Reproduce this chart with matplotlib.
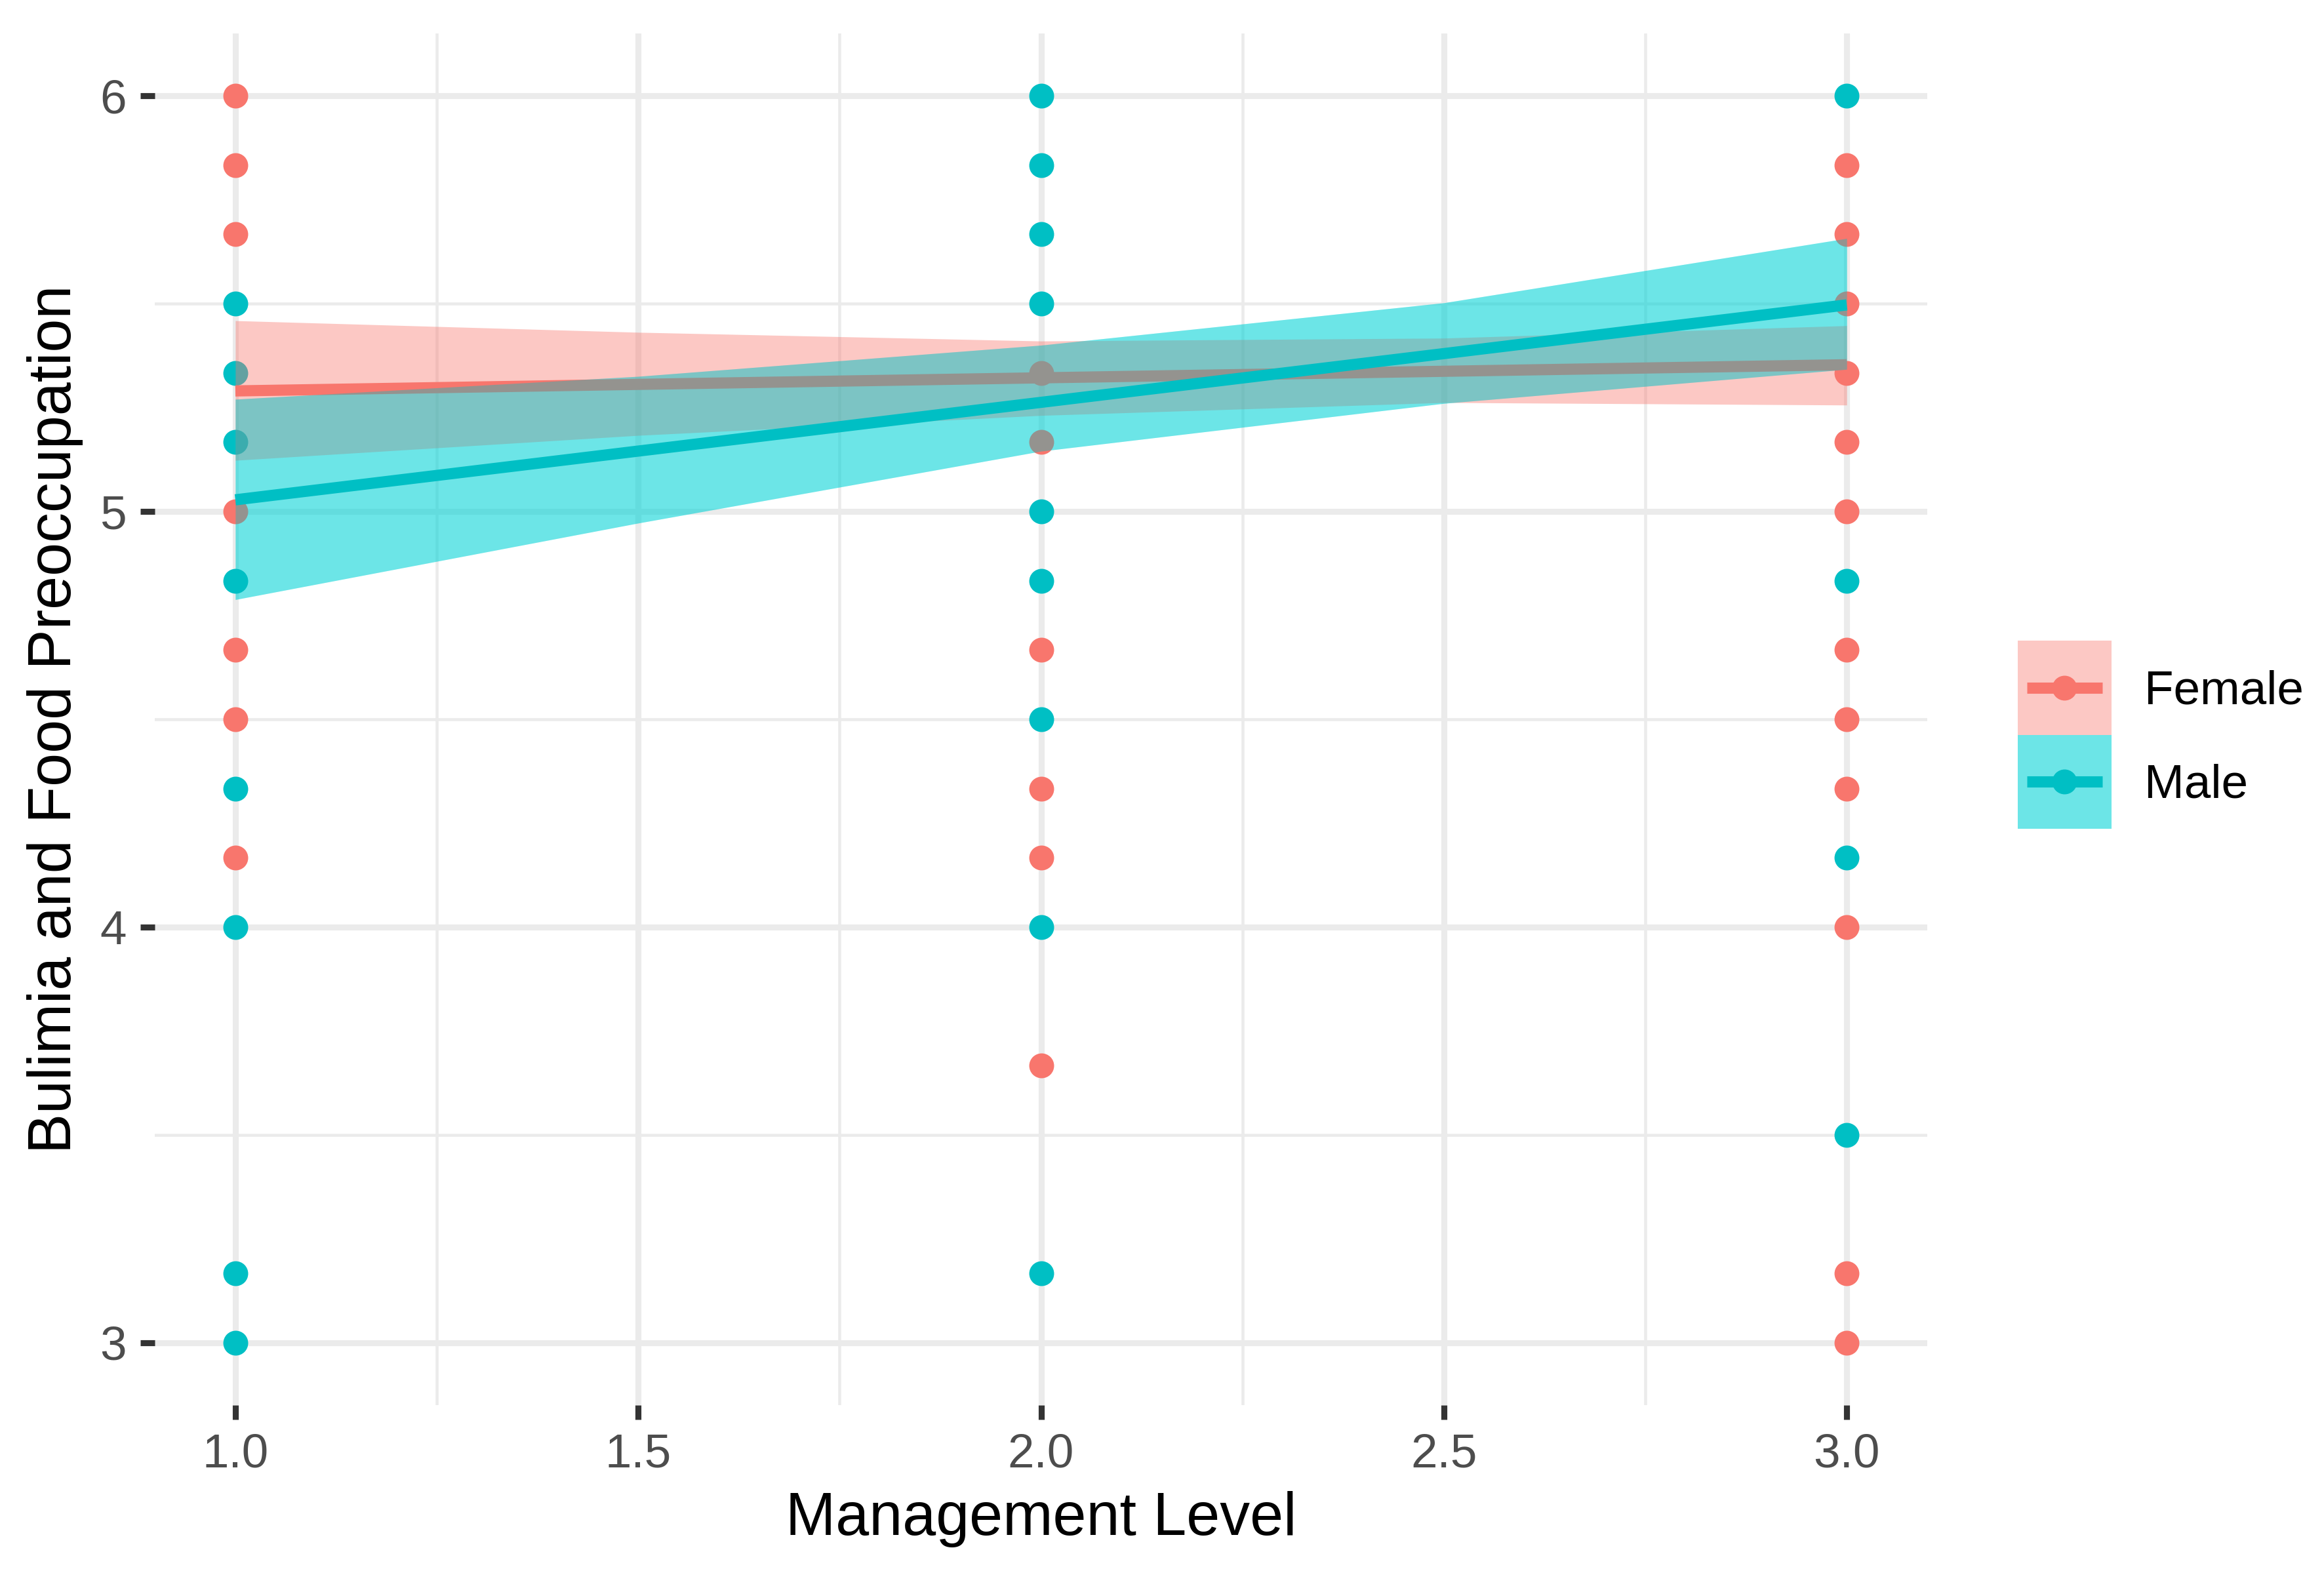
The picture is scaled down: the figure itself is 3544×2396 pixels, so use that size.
import matplotlib
matplotlib.use('Agg')
import matplotlib.pyplot as plt
from matplotlib.patches import Rectangle
from matplotlib.lines import Line2D

plt.rcParams['font.family'] = ['Liberation Sans', 'DejaVu Sans']

# ---------------- data ----------------
groups = ['Female', 'Male']
group_colors = ['#F8766D', '#00BFC4']

female_x = [1, 1, 1, 1, 1, 1, 1,
            2, 2, 2, 2, 2, 2,
            3, 3, 3, 3, 3, 3, 3, 3, 3, 3, 3, 3]
female_y = [6.0, 5.833, 5.667, 5.0, 4.667, 4.5, 4.167,
            5.333, 5.167, 4.667, 4.333, 4.167, 3.667,
            5.833, 5.667, 5.5, 5.333, 5.167, 5.0, 4.667, 4.5, 4.333, 4.0, 3.167, 3.0]

male_x = [1, 1, 1, 1, 1, 1, 1, 1,
          2, 2, 2, 2, 2, 2, 2, 2, 2,
          3, 3, 3, 3]
male_y = [5.5, 5.333, 5.167, 4.833, 4.333, 4.0, 3.167, 3.0,
          6.0, 5.833, 5.667, 5.5, 5.0, 4.833, 4.5, 4.0, 3.167,
          6.0, 4.833, 4.167, 3.5]

fit_x = [1.0, 3.0]
female_fit = [5.290, 5.353]
male_fit = [5.028, 5.497]

band_x = [1.0, 1.5, 2.0, 2.5, 3.0]
female_lo = [5.123, 5.183, 5.231, 5.262, 5.256]
female_hi = [5.459, 5.431, 5.410, 5.417, 5.447]
male_lo = [4.788, 4.972, 5.145, 5.260, 5.342]
male_hi = [5.270, 5.325, 5.400, 5.502, 5.657]

x_ticks = [1.0, 1.5, 2.0, 2.5, 3.0]
x_tick_labels = ['1.0', '1.5', '2.0', '2.5', '3.0']
x_minor = [1.25, 1.75, 2.25, 2.75]
y_ticks = [3, 4, 5, 6]
y_tick_labels = ['3', '4', '5', '6']
y_minor = [3.5, 4.5, 5.5]

x_title = 'Management Level'
y_title = 'Bulimia and Food Preoccupation'

# ---------------- figure ----------------
W, H = 3544, 2396
DPI = 300
fig = plt.figure(figsize=(W / DPI, H / DPI), dpi=DPI)
fig.patch.set_facecolor('white')
ax = fig.add_axes([0.0666, 0.1056, 0.7627, 0.8731])
ax.set_facecolor('white')

MS = 9.1
LW = 4.1
ALPHA = 0.4
MALE_TINT = '#00FFFF'
MALE_TINT_ALPHA = 0.29

# light tint under the male band (brightens the cyan where it lies on the background)
ax.fill_between(band_x, male_lo, male_hi, color=MALE_TINT, alpha=MALE_TINT_ALPHA, lw=0, zorder=1)

ax.scatter(female_x, female_y, s=MS ** 2, color=group_colors[0], linewidths=0, zorder=2)
ax.scatter(male_x, male_y, s=MS ** 2, color=group_colors[1], linewidths=0, zorder=2)

ax.fill_between(band_x, female_lo, female_hi, color=group_colors[0], alpha=ALPHA, lw=0, zorder=3)
ax.plot(fit_x, female_fit, color=group_colors[0], lw=LW, solid_capstyle='butt', zorder=4)
ax.fill_between(band_x, male_lo, male_hi, color=group_colors[1], alpha=ALPHA, lw=0, zorder=5)
ax.plot(fit_x, male_fit, color=group_colors[1], lw=LW, solid_capstyle='butt', zorder=6)

ax.set_xlim(0.9, 3.1)
ax.set_ylim(2.85, 6.15)
ax.set_xticks(x_ticks)
ax.set_xticklabels(x_tick_labels)
ax.set_xticks(x_minor, minor=True)
ax.set_yticks(y_ticks)
ax.set_yticklabels(y_tick_labels)
ax.set_yticks(y_minor, minor=True)

for s in ax.spines.values():
    s.set_visible(False)

ax.set_axisbelow(True)
ax.grid(which='major', color='#EBEBEB', lw=2.2, zorder=0)
ax.grid(which='minor', color='#EBEBEB', lw=1.1, zorder=0)

ax.tick_params(which='major', length=5.3, width=2.2, color='#333333',
               labelcolor='#4D4D4D', labelsize=17.5, pad=5)
ax.tick_params(which='minor', length=0)

ax.set_xlabel(x_title, fontsize=22, color='black', labelpad=5)
ax.set_ylabel(y_title, fontsize=22, color='black', labelpad=6)

# ---------------- legend (drawn in pixel space) ----------------
lax = fig.add_axes([0, 0, 1, 1], facecolor='none')
lax.set_xlim(0, W)
lax.set_ylim(H, 0)
lax.axis('off')

key_left, key_top, key_w, key_h = 3077, 977, 143, 143.5
key_fills = ['#F8766D', '#00BFC4']
for i, (name, col) in enumerate(zip(groups, group_colors)):
    top = key_top + i * key_h
    cy = top + key_h / 2
    if name == 'Male':
        lax.add_patch(Rectangle((key_left, top), key_w, key_h, facecolor=MALE_TINT,
                                alpha=MALE_TINT_ALPHA, lw=0))
    lax.add_patch(Rectangle((key_left, top), key_w, key_h, facecolor=col,
                            alpha=ALPHA, lw=0))
    lax.add_line(Line2D([key_left + 0.1 * key_w, key_left + 0.9 * key_w], [cy, cy],
                        color=col, lw=LW, solid_capstyle='butt'))
    lax.add_line(Line2D([key_left + key_w / 2], [cy], marker='o', ms=MS,
                        markeredgewidth=0, color=col, ls='none'))
    lax.text(3270, cy + 6, name, fontsize=17.5, color='black', va='center', ha='left')

fig.savefig('out.png', dpi=DPI, facecolor='white')
